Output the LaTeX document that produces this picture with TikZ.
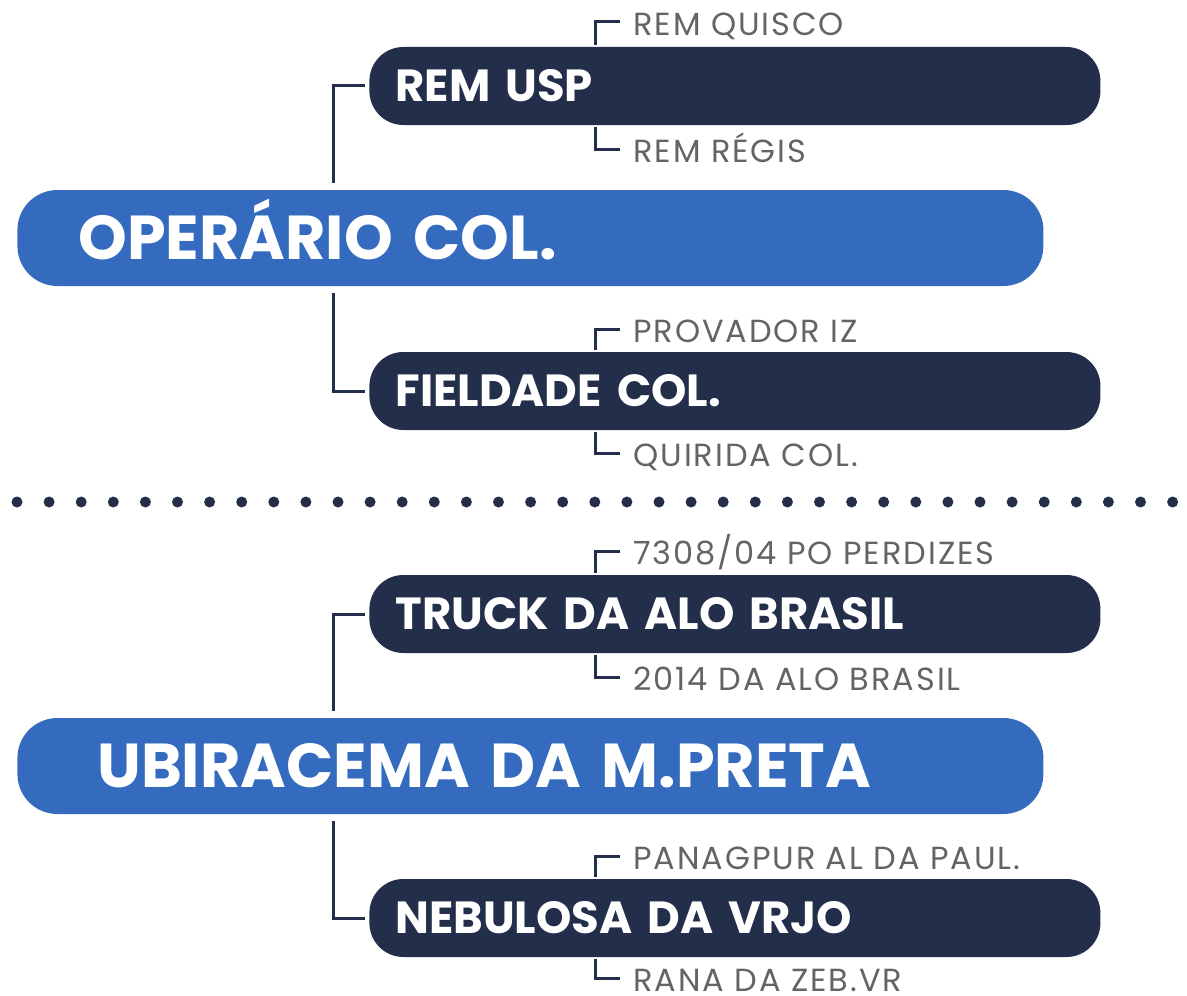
\documentclass[tikz,border=0pt]{standalone}
\usepackage{fontspec}
\setmainfont{Poppins}
\newfontfamily\folhafont[LetterSpace=6]{Poppins}
\usetikzlibrary{calc}
\definecolor{azul}{HTML}{356BBE}
\definecolor{marinho}{HTML}{232E4A}
\definecolor{cinza}{HTML}{646464}
\begin{document}
\begin{tikzpicture}[x=0.5pt,y=-0.5pt,
    raiz/.style={fill=azul,text=white,rounded corners=20pt,minimum height=48pt,
      anchor=west,align=left,text height=21.7pt,text depth=0pt,
      font=\bfseries\fontsize{31}{31}\selectfont},
    ramo/.style={fill=marinho,text=white,rounded corners=17pt,minimum height=39pt,
      anchor=west,align=left,inner xsep=13pt,text width=339.5pt,
      text height=15.7pt,text depth=0pt,font=\bfseries\fontsize{22.5}{22.5}\selectfont},
    folha/.style={text=cinza,anchor=west,inner sep=0pt,text height=11.2pt,
      text depth=0pt,font=\folhafont\fontsize{16}{16}\selectfont},
    liga/.style={draw=marinho,line width=1.5pt}]
  \useasboundingbox (0,0) rectangle (1187,995);
  % primeira parte
  \node[raiz,inner xsep=30.5pt,text width=452pt] (op) at (17,238) {OPERÁRIO COL.};
  \node[ramo] (rem) at (369,86) {REM USP};
  \node[ramo] (fiel) at (369,391) {FIELDADE COL.};
  \node[folha] (quisco) at (633,24) {REM QUISCO};
  \node[folha] (regis) at (633,151) {REM RÉGIS};
  \node[folha] (provador) at (633,331) {PROVADOR IZ};
  \node[folha] (quirida) at (633,455) {QUIRIDA COL.};
  \draw[liga] ($(op.north west)+(316,-7)$) |- ($(rem.west)+(-4,0)$);
  \draw[liga] ($(op.south west)+(316,7)$) |- ($(fiel.west)+(-4,0)$);
  \draw[liga] ($(rem.north west)+(226,-2)$) |- ($(quisco.west)+(-13,-2)$);
  \draw[liga] ($(rem.south west)+(226,2)$) |- ($(regis.west)+(-13,-2)$);
  \draw[liga] ($(fiel.north west)+(226,-2)$) |- ($(provador.west)+(-13,-2)$);
  \draw[liga] ($(fiel.south west)+(226,2)$) |- ($(quirida.west)+(-13,-2)$);
  % separador
  \foreach \i in {0,...,36}
    \fill[marinho] (17+\i*32.1,502) circle (2.75pt);
  % segunda parte
  \node[raiz,inner xsep=40pt,text width=433pt] (ubi) at (17,766) {UBIRACEMA DA M.PRETA};
  \node[ramo] (truck) at (369,614) {TRUCK DA ALO BRASIL};
  \node[ramo] (neb) at (369,918) {NEBULOSA DA VRJO};
  \node[folha] (perdizes) at (633,553) {7308/04 PO PERDIZES};
  \node[folha] (alo) at (633,679) {2014 DA ALO BRASIL};
  \node[folha] (panag) at (633,858) {PANAGPUR AL DA PAUL.};
  \node[folha] (rana) at (633,980) {RANA DA ZEB.VR};
  \draw[liga] ($(ubi.north west)+(316,-7)$) |- ($(truck.west)+(-4,0)$);
  \draw[liga] ($(ubi.south west)+(316,7)$) |- ($(neb.west)+(-4,0)$);
  \draw[liga] ($(truck.north west)+(226,-2)$) |- ($(perdizes.west)+(-13,-2)$);
  \draw[liga] ($(truck.south west)+(226,2)$) |- ($(alo.west)+(-13,-2)$);
  \draw[liga] ($(neb.north west)+(226,-2)$) |- ($(panag.west)+(-13,-2)$);
  \draw[liga] ($(neb.south west)+(226,2)$) |- ($(rana.west)+(-13,-2)$);
\end{tikzpicture}
\end{document}
